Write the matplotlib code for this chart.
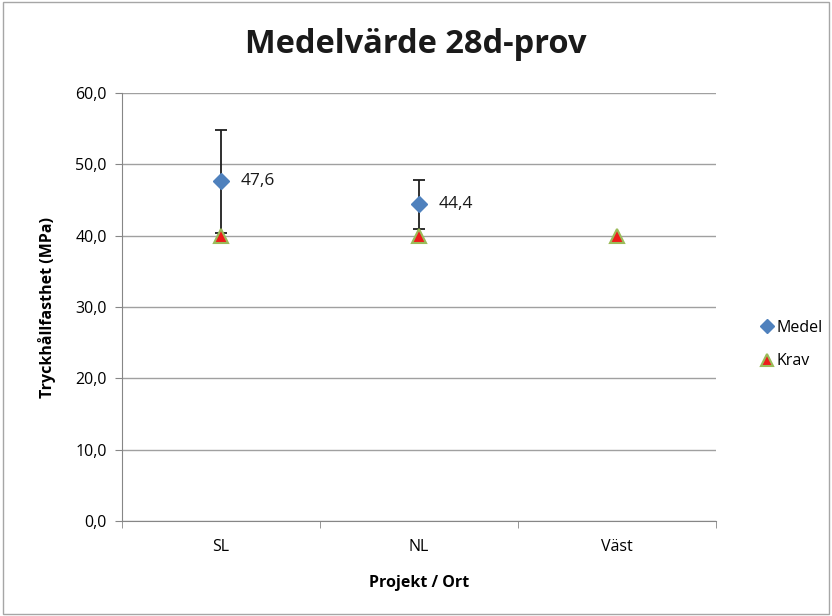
import matplotlib.pyplot as plt
from matplotlib.patches import Rectangle

plt.rcParams['font.family'] = ['Open Sans', 'DejaVu Sans']

kategorier = ['SL', 'NL', 'Väst']
medel = [47.6, 44.4]
medel_fel = [7.2, 3.4]
krav = [40.0, 40.0, 40.0]
ytick_varden = [0, 10, 20, 30, 40, 50, 60]

fig = plt.figure(figsize=(8.32, 6.16), dpi=100)
fig.patches.append(Rectangle((0.004, 0.004), 0.992, 0.992, transform=fig.transFigure,
                             fill=False, edgecolor='#a6a6a6', linewidth=1))
ax = fig.add_axes([0.1466, 0.1542, 0.714, 0.6948])

x = list(range(len(kategorier)))

ax.errorbar(x[:len(medel)], medel, yerr=medel_fel, fmt='none', ecolor='#1f1f1f',
            elinewidth=1.3, capsize=4, capthick=1.3, zorder=3)
ax.plot(x[:len(medel)], medel, linestyle='none', marker='D', markersize=8,
        color='#4f81bd', label='Medel', zorder=4)
ax.plot(x, krav, linestyle='none', marker='^', markersize=10,
        markerfacecolor='#ee1c1c', markeredgecolor='#9bbb59', markeredgewidth=1.5,
        label='Krav', zorder=5)

for xi, v in zip(x, medel):
    ax.annotate(f'{v:.1f}'.replace('.', ','), xy=(xi, v), xytext=(14, 0),
                textcoords='offset points', ha='left', va='center', fontsize=12.5,
                color='#1a1a1a')

ax.set_xlim(-0.5, 2.5)
ax.set_ylim(0, 60)
ax.set_yticks(ytick_varden)
ax.set_yticklabels([f'{v:.1f}'.replace('.', ',') for v in ytick_varden], fontsize=11.5)
ax.set_xticks(x)
ax.set_xticklabels(kategorier, fontsize=11.5)
ax.set_xticks([-0.5, 0.5, 1.5, 2.5], minor=True)
ax.tick_params(axis='x', which='major', length=0, pad=13)
ax.tick_params(axis='x', which='minor', length=5, color='#868686', direction='out')
ax.tick_params(axis='y', length=5, color='#868686', direction='out', pad=6)

ax.grid(axis='y', color='#a0a0a0', linewidth=1)
ax.set_axisbelow(True)
for s in ['top', 'right']:
    ax.spines[s].set_visible(False)
for s in ['left', 'bottom']:
    ax.spines[s].set_color('#868686')

ax.set_ylabel('Tryckhållfasthet (MPa)', fontsize=11.5, fontweight='bold', labelpad=14)
ax.set_xlabel('Projekt / Ort', fontsize=11.5, fontweight='bold', labelpad=14)
fig.text(0.5, 0.927, 'Medelvärde 28d-prov', ha='center', va='center',
         fontsize=23.5, fontweight='bold', color='#1a1a1a')

fig.legend(loc='center left', bbox_to_anchor=(0.893, 0.441), frameon=False,
           fontsize=11.5, handletextpad=0.0, labelspacing=1.1, handlelength=1.2,
           markerscale=0.85)

plt.savefig('out.png', dpi=100)
